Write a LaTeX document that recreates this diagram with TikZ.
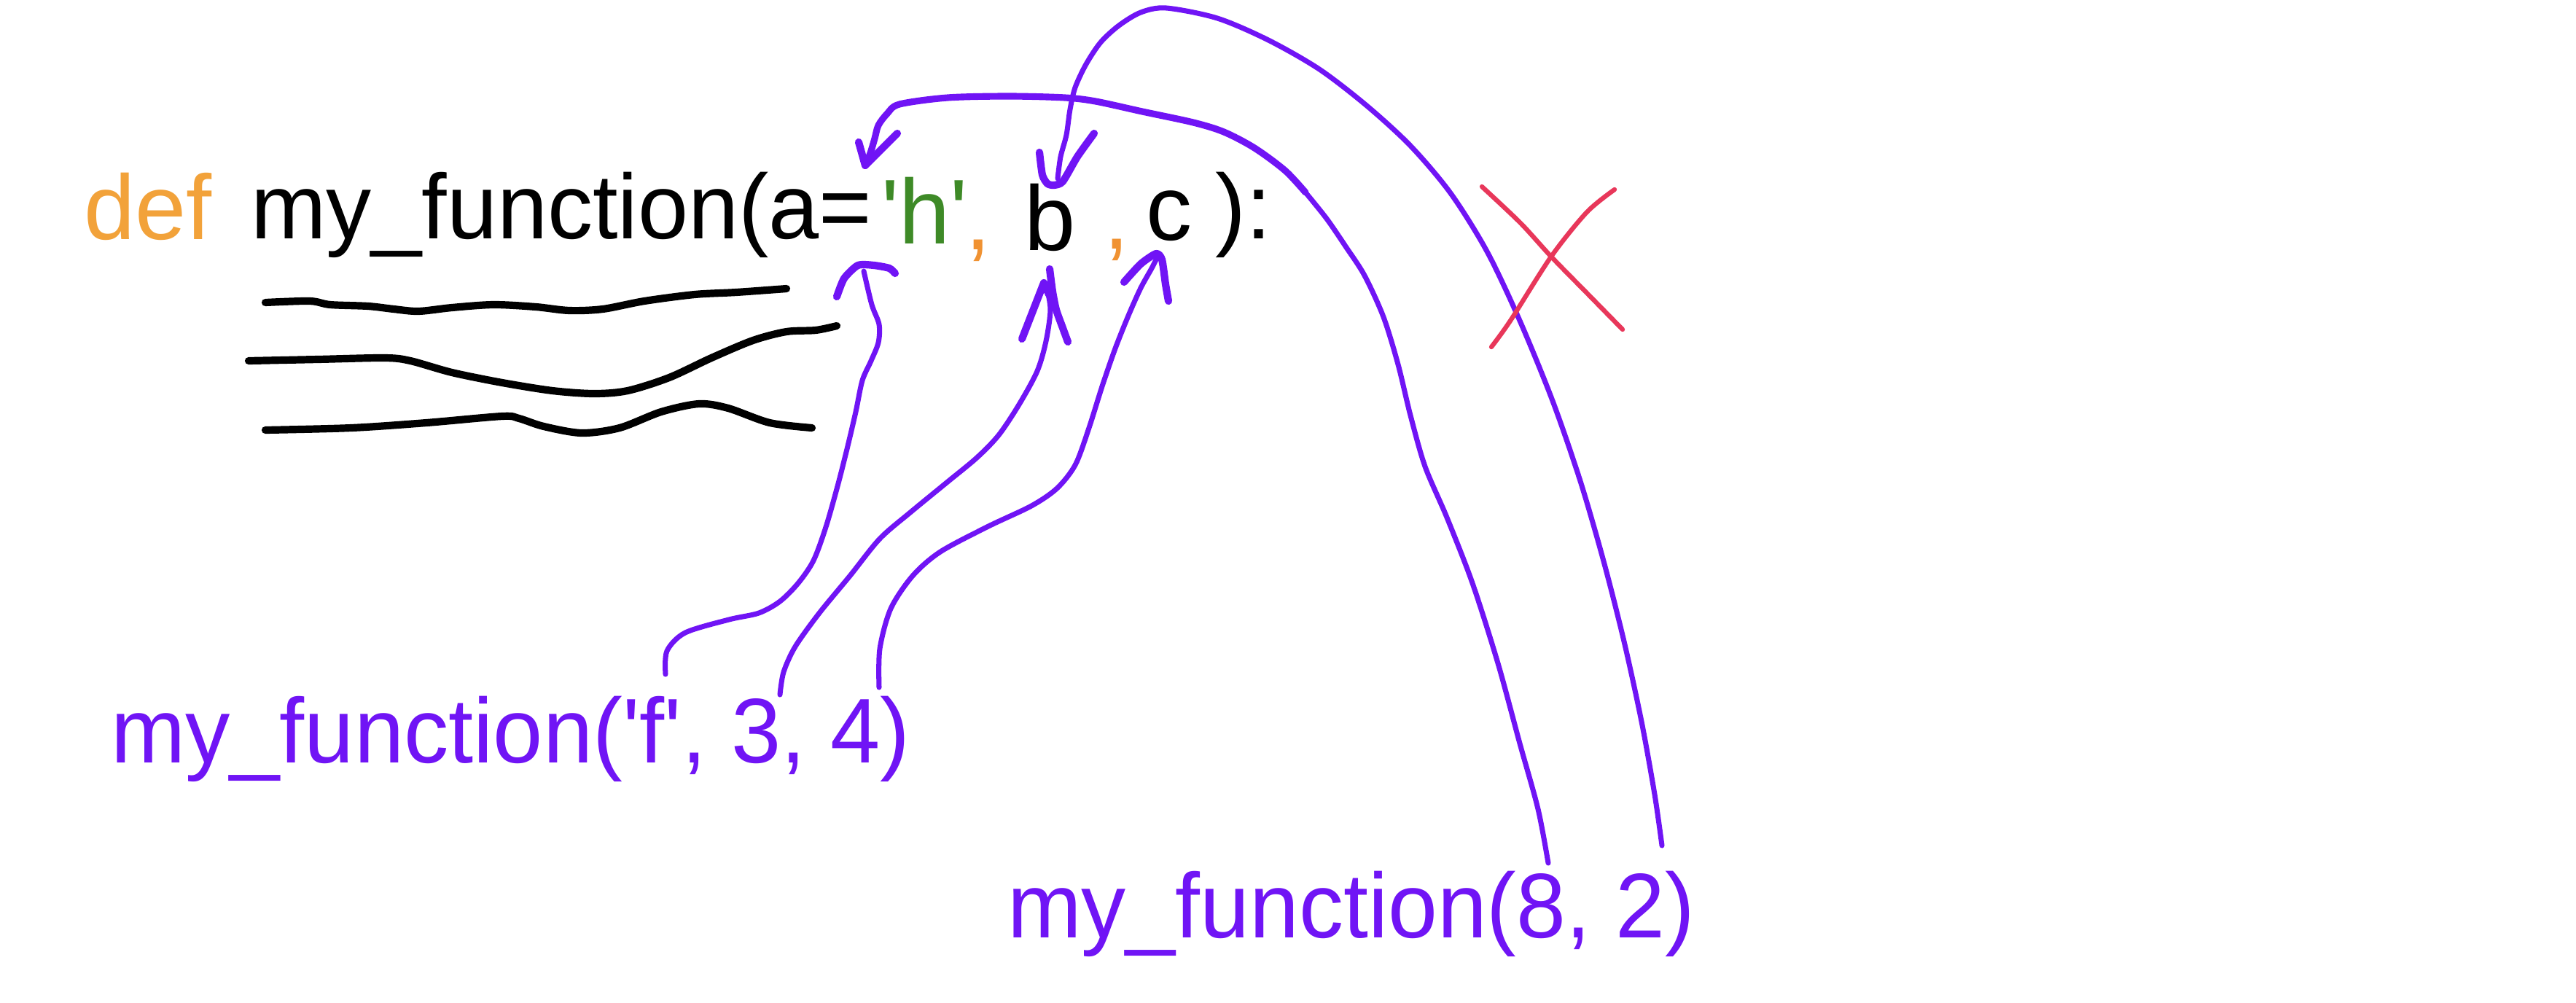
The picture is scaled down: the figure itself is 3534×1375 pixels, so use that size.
\documentclass[tikz,border=0pt]{standalone}
\usepackage{fontspec}
\setmainfont{Liberation Sans}[Ligatures=TeXOff]
\usepackage{graphicx}
\definecolor{pur}{HTML}{7014F5}
\definecolor{deforange}{HTML}{F2A23A}
\definecolor{commaorange}{HTML}{F09232}
\definecolor{strgreen}{HTML}{3E8A27}
\definecolor{xred}{HTML}{E8375A}
\begin{document}
\begin{tikzpicture}[x=0.01cm,y=-0.01cm,line cap=round,line join=round]
\tikzset{
  txt/.style={inner sep=0pt,outer sep=0pt,anchor=base west,font=\fontsize{35.85pt}{40pt}\selectfont},
  pline/.style={draw=pur,line width=2.0pt},
  pthick/.style={draw=pur,line width=2.6pt},
  phead/.style={draw=pur,line width=2.9pt},
  blk/.style={draw=black,line width=2.9pt},
  redx/.style={draw=xred,line width=1.8pt}
}
\useasboundingbox (0,0) rectangle (3534,1375);
\fill[white] (0,0) rectangle (3534,1375);

% ---- signature line ----
\node[txt,text=deforange] (def) at (115,328) {def};
\node[txt] (sig) at (344,327) {\scalebox{0.985}[1]{my\_function(a=}};
\node[txt,text=strgreen] (hval) at (1209,334) {'h'};
\node[txt,text=commaorange] (comma1) at (1324,342) {,};
\node[txt] (pb) at (1405,343) {b};
\node[txt,text=commaorange] (comma2) at (1514,341) {,};
\node[txt] (pc) at (1572,329) {c};
\node[txt] (close) at (1667,327) {):};

% ---- calls ----
\node[txt,text=pur] (call1) at (152,1046) {\scalebox{0.973}[1]{my\_function('f', 3, 4)}};
\node[txt,text=pur] (call2) at (1382,1286) {\scalebox{0.968}[1]{my\_function(8, 2)}};

% ---- black squiggles (function body) ----
\draw[blk] plot[smooth,tension=0.5] coordinates {(364,415) (425,413) (453,418) (505,420) (540,424) (574,427) (620,422) (677,418) (735,421) (781,426) (827,424) (884,413) (953,404) (1010,401) (1079,396)};
\draw[blk] plot[smooth,tension=0.5] coordinates {(341,495) (436,493) (528,491) (563,495) (620,511) (689,525) (758,536) (815,540) (861,536) (918,518) (976,491) (1033,467) (1079,455) (1119,453) (1148,447)};
\draw[blk] plot[smooth,tension=0.5] coordinates {(364,590) (482,587) (585,580) (689,571) (712,574) (746,585) (798,594) (850,587) (907,565) (959,554) (999,560) (1056,580) (1114,587)};

% ---- named ends ----
\coordinate (aS) at (913,925);
\coordinate (aT) at (1185,372);
\coordinate (bS) at (1070,953);
\coordinate (bT) at (1436,395);
\coordinate (cS) at (1206,943);
\coordinate (cT) at (1588,352);
\coordinate (dS) at (2124,1184);
\coordinate (dT) at (1188,224);
\coordinate (eS) at (2280,1160);
\coordinate (eT) at (1451,245);

% ---- curve A: 'f' -> a ----
\draw[pline] plot[smooth,tension=0.5] coordinates {(aS) (915,893) (940,868) (1000,850) (1041,841) (1070,825) (1095,800) (1116,769) (1133,723) (1149,667) (1162,616) (1174,565) (1183,522) (1195,495) (1205,470) (1206,445) (1196,418) (aT)};
\draw[phead] plot[smooth,tension=0.4] coordinates {(1148,407) (1158,382) (1177,364) (1199,364) (1220,368) (1228,375)};

% ---- curve B: 3 -> b ----
\draw[pline] plot[smooth,tension=0.5] coordinates {(bS) (1075,922) (1091,887) (1124,841) (1166,790) (1207,739) (1250,702) (1300,661) (1340,628) (1370,597) (1398,555) (1423,509) (1435,468) (1441,425) (bT)};
\draw[phead] (1402,465) -- (1432,388) -- (1439,404);
\draw[phead] plot[smooth,tension=0.4] coordinates {(1440,369) (1444,400) (1449,425) (1458,450) (1465,469)};

% ---- curve C: 4 -> c ----
\draw[pline] plot[smooth,tension=0.5] coordinates {(cS) (1207,890) (1222,835) (1252,790) (1290,757) (1356,722) (1415,694) (1450,670) (1475,638) (1493,590) (1512,530) (1530,478) (1548,433) (1565,395) (1580,368) (cT)};
\draw[phead] plot[smooth,tension=0.4] coordinates {(1542,387) (1565,362) (1586,348) (1594,356) (1599,390) (1603,413)};

% ---- curve D: 8 -> a (over the top) ----
\draw[pline] plot[smooth,tension=0.5] coordinates {(dS) (2110,1110) (2085,1020) (2055,910) (2020,800) (1985,710) (1955,640) (1935,570) (1918,500) (1898,435) (1872,378) (1846,338) (1820,300) (1791,264)};
\draw[pthick] plot[smooth,tension=0.5] coordinates {(1791,264) (1763,234) (1721,203) (1679,181) (1637,168) (1567,153) (1503,139) (1461,134) (1384,132) (1300,134) (1234,143) (1217,156) (1205,172) (1200,190) (1194,210) (dT)};
\draw[phead] (1178,195) -- (1187,227) -- (1231,183);

% ---- curve E: 2 -> b (from above) ----
\draw[pline] plot[smooth,tension=0.5] coordinates {(eS) (2270,1090) (2252,990) (2228,880) (2200,770) (2168,660) (2130,550) (2085,440) (2040,345) (1990,265) (1935,200) (1875,145) (1810,95) (1740,55) (1670,25) (1600,11) (1565,17) (1535,35) (1510,58) (1490,88) (1475,120) (1468,150) (1463,185) (1455,215) (eT)};
\draw[phead] plot[smooth,tension=0.4] coordinates {(1426,209) (1430,240) (1437,252) (1446,254) (1458,249) (1478,215) (1501,183)};

% ---- red cross ----
\draw[redx] plot[smooth,tension=0.5] coordinates {(2033,256) (2086,306) (2128,352) (2177,402) (2226,452)};
\draw[redx] plot[smooth,tension=0.5] coordinates {(2215,260) (2177,291) (2128,352) (2072,440) (2046,476)};
\end{tikzpicture}
\end{document}
